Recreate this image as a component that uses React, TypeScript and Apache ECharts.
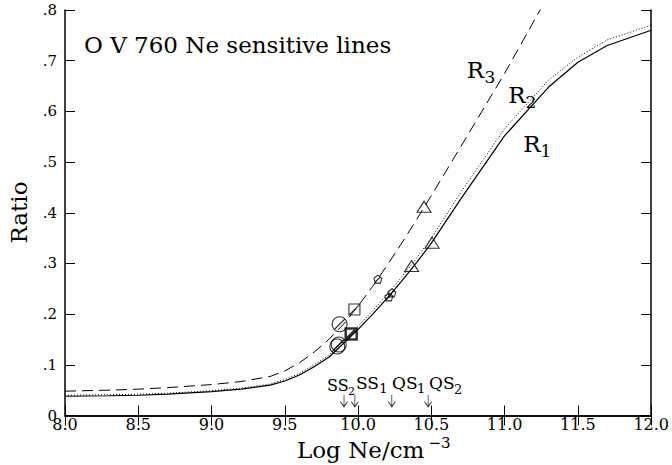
import React, { useEffect, useRef } from 'react';
import * as echarts from 'echarts';

// Log Ne grid of the model curves
const logNe = [8.0, 8.3, 8.5, 8.7, 9.0, 9.2, 9.4, 9.5, 9.6, 9.7, 9.8, 9.9, 10.0, 10.1, 10.2, 10.3, 10.4, 10.5, 10.7, 11.0, 11.3, 11.5, 11.7, 12.0];
// R1 (solid)
const r1 = [0.038, 0.039, 0.040, 0.042, 0.047, 0.052, 0.060, 0.068, 0.080, 0.096, 0.115, 0.142, 0.170, 0.200, 0.232, 0.266, 0.302, 0.340, 0.427, 0.552, 0.648, 0.697, 0.730, 0.760];
// R2 (dotted)
const r2 = [0.040, 0.041, 0.042, 0.044, 0.049, 0.054, 0.062, 0.071, 0.083, 0.100, 0.119, 0.147, 0.176, 0.207, 0.239, 0.274, 0.311, 0.350, 0.440, 0.566, 0.662, 0.707, 0.741, 0.770];
// R3 (dashed)
const r3 = [0.048, 0.050, 0.052, 0.055, 0.061, 0.067, 0.077, 0.088, 0.104, 0.125, 0.150, 0.180, 0.216, 0.255, 0.297, 0.341, 0.387, 0.434, 0.530, 0.675, 0.830];

// observed points
const triangles = [[10.45, 0.412], [10.505, 0.341], [10.365, 0.295]];
const pentagons = [[10.135, 0.269], [10.21, 0.234], [10.23, 0.242]];
const squares = [[9.975, 0.209]];
const boldSquares = [[9.953, 0.161]];
const circles = [[9.874, 0.180], [9.868, 0.140], [9.858, 0.136]];

// density markers
const arrowNe = [9.904, 9.978, 10.23, 10.478];

const SERIF = 'DejaVu Serif';

const pair = (xs: number[], ys: number[]) => ys.map((y, i) => [xs[i], y]);

const circlePath = 'path://M10,0 A10,10 0 1,1 10,20 A10,10 0 1,1 10,0 Z M3,17 L17,3';
const squarePath = 'path://M0,0 L20,0 L20,20 L0,20 Z M0,20 L20,0';
const pentPath = 'path://M10,0 L19.5,7 L16,18 L4,18 L0.5,7 Z M3,16 L17,3';
const trianglePath = 'path://M10,0 L20,16 L0,16 Z';
const arrowPath = 'path://M4,0 L4,12 M0,7 L4,12 L8,7';

function txt(text: string, x: number, y: number, size: number, family = SERIF, align = 'left') {
  return {
    type: 'text',
    x,
    y,
    style: { text, fontFamily: family, fontSize: size, fill: '#000', align, verticalAlign: 'middle' },
  };
}

export default function App() {
  const ref = useRef<HTMLDivElement>(null);
  useEffect(() => {
    if (!ref.current) return;
    const chart = echarts.init(ref.current, null, { renderer: 'svg' });
    const axisLine = { show: true, lineStyle: { color: '#000', width: 1.5 } };
    const tick = { show: true, inside: true, length: 10, lineStyle: { color: '#000', width: 1 } };
    const markerStyle = { color: 'none', borderColor: '#000', borderWidth: 1.1 };
    chart.setOption({
      animation: false,
      backgroundColor: '#fff',
      grid: { left: 65, right: 15, top: 10, bottom: 49.5, containLabel: false },
      xAxis: [
        {
          type: 'value', min: 8, max: 12, interval: 0.5, position: 'bottom',
          axisLine, axisTick: tick, splitLine: { show: false },
          axisLabel: {
            margin: 1, fontFamily: SERIF, fontSize: 16, color: '#000',
            formatter: (v: number) => v.toFixed(1),
          },
        },
        {
          type: 'value', min: 8, max: 12, interval: 0.5, position: 'top',
          axisLine, axisTick: tick, splitLine: { show: false }, axisLabel: { show: false },
        },
      ],
      yAxis: [
        {
          type: 'value', min: 0, max: 0.8, interval: 0.1, position: 'left',
          axisLine, axisTick: tick, splitLine: { show: false },
          axisLabel: {
            margin: 8, fontFamily: SERIF, fontSize: 15, color: '#000',
            formatter: (v: number) => (v === 0 ? '0' : '.' + Math.round(v * 10)),
          },
        },
        {
          type: 'value', min: 0, max: 0.8, interval: 0.1, position: 'right',
          axisLine, axisTick: tick, splitLine: { show: false }, axisLabel: { show: false },
        },
      ],
      series: [
        {
          type: 'line', name: 'R1', data: pair(logNe, r1), showSymbol: false,
          lineStyle: { color: '#000', width: 1.2, type: 'solid' },
        },
        {
          type: 'line', name: 'R2', data: pair(logNe, r2), showSymbol: false,
          lineStyle: { color: '#000', width: 1, type: [1, 2] },
        },
        {
          type: 'line', name: 'R3', data: pair(logNe, r3), showSymbol: false,
          lineStyle: { color: '#000', width: 1, type: [11, 6] },
        },
        {
          type: 'scatter', data: triangles, symbol: trianglePath, symbolSize: [14, 11],
          itemStyle: markerStyle, z: 5,
        },
        {
          type: 'scatter', data: pentagons, symbol: pentPath, symbolSize: [8, 8],
          itemStyle: markerStyle, z: 5,
        },
        {
          type: 'scatter', data: squares, symbol: squarePath, symbolSize: [11, 11],
          itemStyle: markerStyle, z: 5,
        },
        {
          type: 'scatter', data: boldSquares, symbol: squarePath, symbolSize: [11, 11],
          itemStyle: { color: 'none', borderColor: '#000', borderWidth: 2.5 }, z: 5,
        },
        {
          type: 'scatter', data: circles, symbol: circlePath, symbolSize: [15, 15],
          itemStyle: markerStyle, z: 5,
        },
        {
          type: 'scatter', data: arrowNe.map((x) => [x, 0.029]), symbol: arrowPath, symbolSize: [7, 12],
          itemStyle: { color: 'none', borderColor: '#000', borderWidth: 1 }, z: 5,
        },
      ],
      graphic: [
        txt('O V 760 Ne sensitive lines', 84, 45, 23),
        txt('R', 466.7, 70, 23), txt('3', 484.5, 77, 17),
        txt('R', 508.3, 95, 23), txt('2', 525.5, 101.7, 17),
        txt('R', 523.3, 144, 23), txt('1', 540.5, 151, 17),
        txt('SS', 327, 385.5, 16), txt('2', 348, 391, 11),
        txt('SS', 356, 383, 17), txt('1', 379.3, 388.5, 13),
        txt('QS', 392, 383, 17), txt('1', 417, 388.5, 13),
        txt('QS', 429, 383, 17), txt('2', 454, 389, 13),
        txt('Log Ne/cm', 297, 450, 23), txt('\u22123', 428.5, 443, 15),
        {
          type: 'text', x: 18.5, y: 212.5, rotation: Math.PI / 2,
          style: { text: 'Ratio', fontFamily: SERIF, fontSize: 23, fill: '#000', align: 'center', verticalAlign: 'middle' },
        },
      ],
    });
    return () => chart.dispose();
  }, []);
  return <div ref={ref} style={{ width: 672, height: 465, position: 'absolute', left: 0, top: 0 }} />;
}
